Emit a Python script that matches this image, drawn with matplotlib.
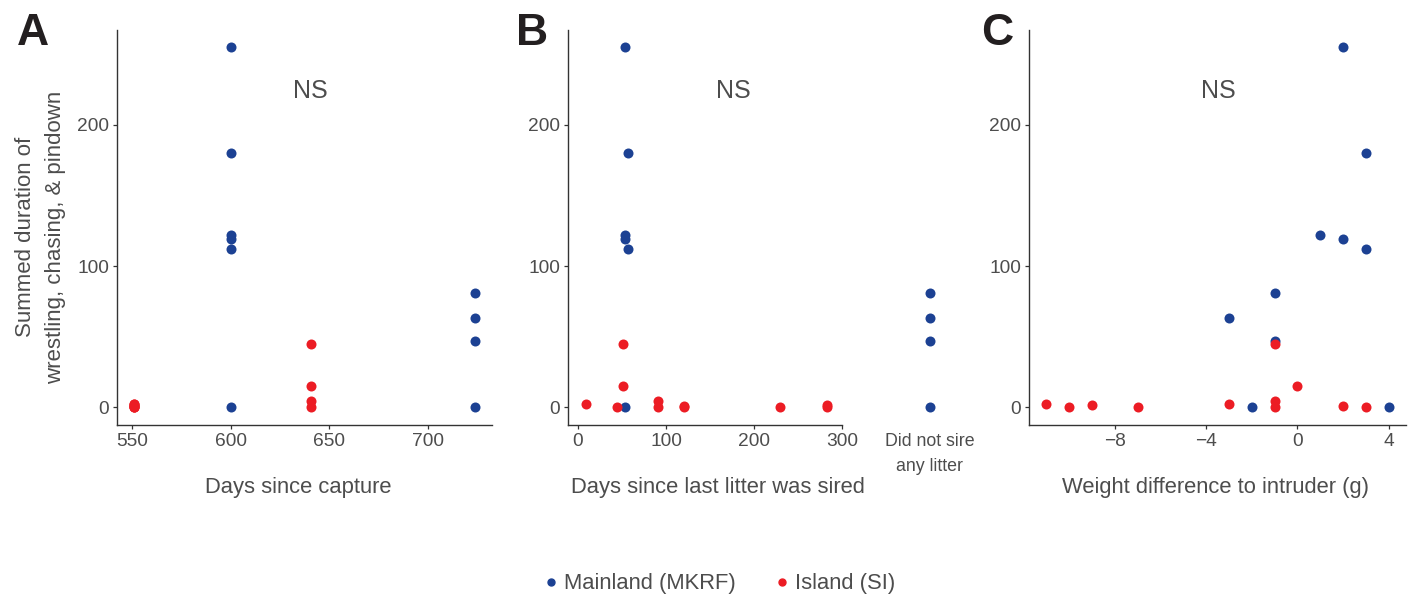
import matplotlib.pyplot as plt
from matplotlib.lines import Line2D

plt.rcParams['font.family'] = ['Liberation Sans', 'DejaVu Sans']

blue = '#1c4193'
red = '#ec1c24'
gris = '#4d4d4d'

# Panel A: days since capture
capture_main_x = [600, 600, 600, 600, 600, 600, 724, 724, 724, 724]
capture_main_y = [255, 180, 122, 119, 112, 0, 81, 63, 47, 0]
capture_isl_x = [551, 551, 551, 551, 551, 551, 551, 641, 641, 641, 641]
capture_isl_y = [2, 0, 1.4, 0, 2, 0.7, 0, 45, 15, 4, 0]

# Panel B: days since last litter was sired
sired_main_x = [53, 57, 53, 53, 57, 53]
sired_main_y = [255, 180, 122, 119, 112, 0]
no_litter_main_y = [81, 63, 47, 0]
sired_isl_x = [9, 44, 51, 51, 91, 91, 120, 120, 229, 283, 283]
sired_isl_y = [2, 0, 45, 15, 4, 0, 0.7, 0, 0, 1.4, 0]

# Panel C: weight difference to intruder
weight_main_x = [2, 3, 1, 2, 3, -1, -3, -1, -2, 4]
weight_main_y = [255, 180, 122, 119, 112, 81, 63, 47, 0, 0]
weight_isl_x = [-11, -10, -9, -7, -3, -1, -1, -1, 0, 2, 3]
weight_isl_y = [2, 0, 1.4, 0, 2, 45, 4, 0, 15, 0.7, 0]

fig = plt.figure(figsize=(14.11, 5.98), dpi=100)
W, H = 1411, 598

def axes_px(left, right, top, bottom):
    return fig.add_axes([left / W, (H - bottom) / H, (right - left) / W, (bottom - top) / H])

axA = axes_px(117, 492, 30, 425)
axB = axes_px(568, 842, 30, 425)
axN = axes_px(870, 990, 30, 425)
axC = axes_px(1029, 1406, 30, 425)

ylim = (-12.7, 267.3)
dot = 52

for ax in [axA, axB, axC]:
    ax.spines['top'].set_visible(False)
    ax.spines['right'].set_visible(False)
    ax.spines['left'].set_color('#333333')
    ax.spines['bottom'].set_color('#333333')
    ax.spines['left'].set_linewidth(1.0)
    ax.spines['bottom'].set_linewidth(1.0)
    ax.tick_params(length=3, width=0.9, color='#333333', labelsize=13.8,
                   labelcolor=gris, pad=2.5)
    ax.set_ylim(ylim)
    ax.set_yticks([0, 100, 200])

axA.scatter(capture_main_x, capture_main_y, s=dot, color=blue, lw=0)
axA.scatter(capture_isl_x, capture_isl_y, s=dot, color=red, lw=0)
axA.set_xlim(542.35, 732.65)
axA.set_xticks([550, 600, 650, 700])

axB.scatter(sired_main_x, sired_main_y, s=dot, color=blue, lw=0)
axB.scatter(sired_isl_x, sired_isl_y, s=dot, color=red, lw=0)
axB.set_xlim(-11.4, 300)
axB.set_xticks([0, 100, 200, 300])

axN.scatter([0.5] * len(no_litter_main_y), no_litter_main_y, s=dot, color=blue, lw=0)
axN.set_xlim(0, 1)
axN.set_ylim(ylim)
axN.axis('off')
axN.text(0.5, -0.02, 'Did not sire\nany litter', transform=axN.transAxes,
         ha='center', va='top', fontsize=12.8, color=gris, linespacing=1.6)

axC.scatter(weight_main_x, weight_main_y, s=dot, color=blue, lw=0)
axC.scatter(weight_isl_x, weight_isl_y, s=dot, color=red, lw=0)
axC.set_xlim(-11.75, 4.75)
axC.set_xticks([-8, -4, 0, 4])
axC.set_xticklabels(['\u22128', '\u22124', '0', '4'])

axA.text(640.5, 224, 'NS', ha='center', va='center', fontsize=18, color=gris)
axB.text(177, 224, 'NS', ha='center', va='center', fontsize=18, color=gris)
axC.text(-3.48, 224, 'NS', ha='center', va='center', fontsize=18, color=gris)

# panel letters
for x, letra in [(17, 'A'), (516, 'B'), (981, 'C')]:
    fig.text(x / W, (H - 45) / H, letra, ha='left', va='baseline',
             fontsize=32, fontweight='bold', color='#231f20')

# axis titles
fig.text(298.7 / W, (H - 487) / H, 'Days since capture', ha='center', va='center',
         fontsize=15.8, color=gris)
fig.text(718 / W, (H - 487) / H, 'Days since last litter was sired', ha='center',
         va='center', fontsize=15.8, color=gris)
fig.text(1215.5 / W, (H - 487) / H, 'Weight difference to intruder (g)', ha='center',
         va='center', fontsize=15.8, color=gris)
fig.text(40.5 / W, (H - 237) / H, 'Summed duration of\nwrestling, chasing, & pindown',
         rotation=90, ha='center', va='center', fontsize=16, color=gris,
         linespacing=1.55)

handles = [Line2D([], [], marker='o', ls='', color=blue, markersize=5),
           Line2D([], [], marker='o', ls='', color=red, markersize=5)]
fig.legend(handles, ['Mainland (MKRF)', 'Island (SI)'], loc='center',
           bbox_to_anchor=(718 / W, (H - 584) / H), ncol=2, frameon=False,
           fontsize=15.8, labelcolor=gris, handletextpad=0.1, columnspacing=1.6,
           handlelength=1.0)

fig.savefig('out.png', dpi=100)
